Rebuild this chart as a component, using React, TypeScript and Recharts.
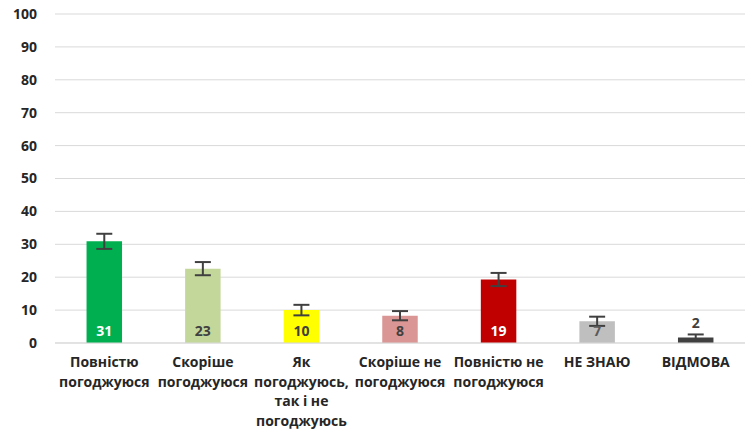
import React from "react";
import {
  BarChart,
  Bar,
  XAxis,
  YAxis,
  CartesianGrid,
  Cell,
  ErrorBar,
  LabelList,
} from "recharts";

const categories = [
  "Повністю|погоджуюся",
  "Скоріше|погоджуюся",
  "Як|погоджуюсь,|так і не|погоджуюсь",
  "Скоріше не|погоджуюся",
  "Повністю не|погоджуюся",
  "НЕ ЗНАЮ",
  "ВІДМОВА",
];
const values = [30.9, 22.6, 10.0, 8.3, 19.3, 6.6, 1.7];
const errors = [2.3, 2.0, 1.6, 1.4, 2.0, 1.4, 0.9];
const shownLabels = ["31", "23", "10", "8", "19", "7", "2"];
const barColors = ["#00B050", "#C4D79B", "#FFFF00", "#DA9694", "#C00000", "#BFBFBF", "#404040"];
const labelColors = ["#FFFFFF", "#404040", "#404040", "#404040", "#FFFFFF", "#595959", "#404040"];
const yTicks = [0, 10, 20, 30, 40, 50, 60, 70, 80, 90, 100];

const data = categories.map((c, i) => ({
  name: c,
  value: values[i],
  err: errors[i],
  label: shownLabels[i],
}));

const FONT = "'Open Sans', Arial, sans-serif";

function CategoryTick(props: any) {
  const { x, y, payload } = props;
  const lines = String(payload.value).split("|");
  return (
    <g transform={`translate(${x},${y})`}>
      {lines.map((line, i) => (
        <text
          key={i}
          x={0}
          y={16 + i * 19.5}
          textAnchor="middle"
          fill="#262626"
          fontSize={14}
          fontWeight={700}
          fontFamily={FONT}
        >
          {line}
        </text>
      ))}
    </g>
  );
}

function ValueLabel(props: any) {
  const { x, y, width, height, index } = props;
  const cx = x + width / 2;
  const small = height < 12;
  const ty = small ? y - 9 : y + height - 7;
  return (
    <text
      x={cx}
      y={ty}
      textAnchor="middle"
      fill={labelColors[index]}
      fontSize={14}
      fontWeight={700}
      fontFamily={FONT}
    >
      {shownLabels[index]}
    </text>
  );
}

export default function App() {
  return (
    <div style={{ position: "absolute", left: 0, top: 0, width: 755, height: 436, background: "#fff" }}>
      <BarChart
        width={755}
        height={436}
        data={data}
        margin={{ top: 14, right: 10, bottom: 0, left: 0 }}
        barCategoryGap="68%"
      >
        <CartesianGrid vertical={false} stroke="#D9D9D9" strokeWidth={1} />
        <XAxis
          dataKey="name"
          interval={0}
          axisLine={{ stroke: "#D9D9D9" }}
          tickLine={false}
          height={93}
          tick={<CategoryTick />}
        />
        <YAxis
          domain={[0, 100]}
          ticks={yTicks}
          width={55}
          axisLine={false}
          tickLine={false}
          tickMargin={12}
          tick={{ fill: "#262626", fontSize: 14, fontWeight: 700, fontFamily: FONT }}
        />
        <Bar dataKey="value" isAnimationActive={false}>
          {data.map((d, i) => (
            <Cell key={d.name} fill={barColors[i]} />
          ))}
          <ErrorBar dataKey="err" width={8} stroke="#404040" strokeWidth={2} direction="y" />
          <LabelList dataKey="label" content={<ValueLabel />} />
        </Bar>
      </BarChart>
    </div>
  );
}
